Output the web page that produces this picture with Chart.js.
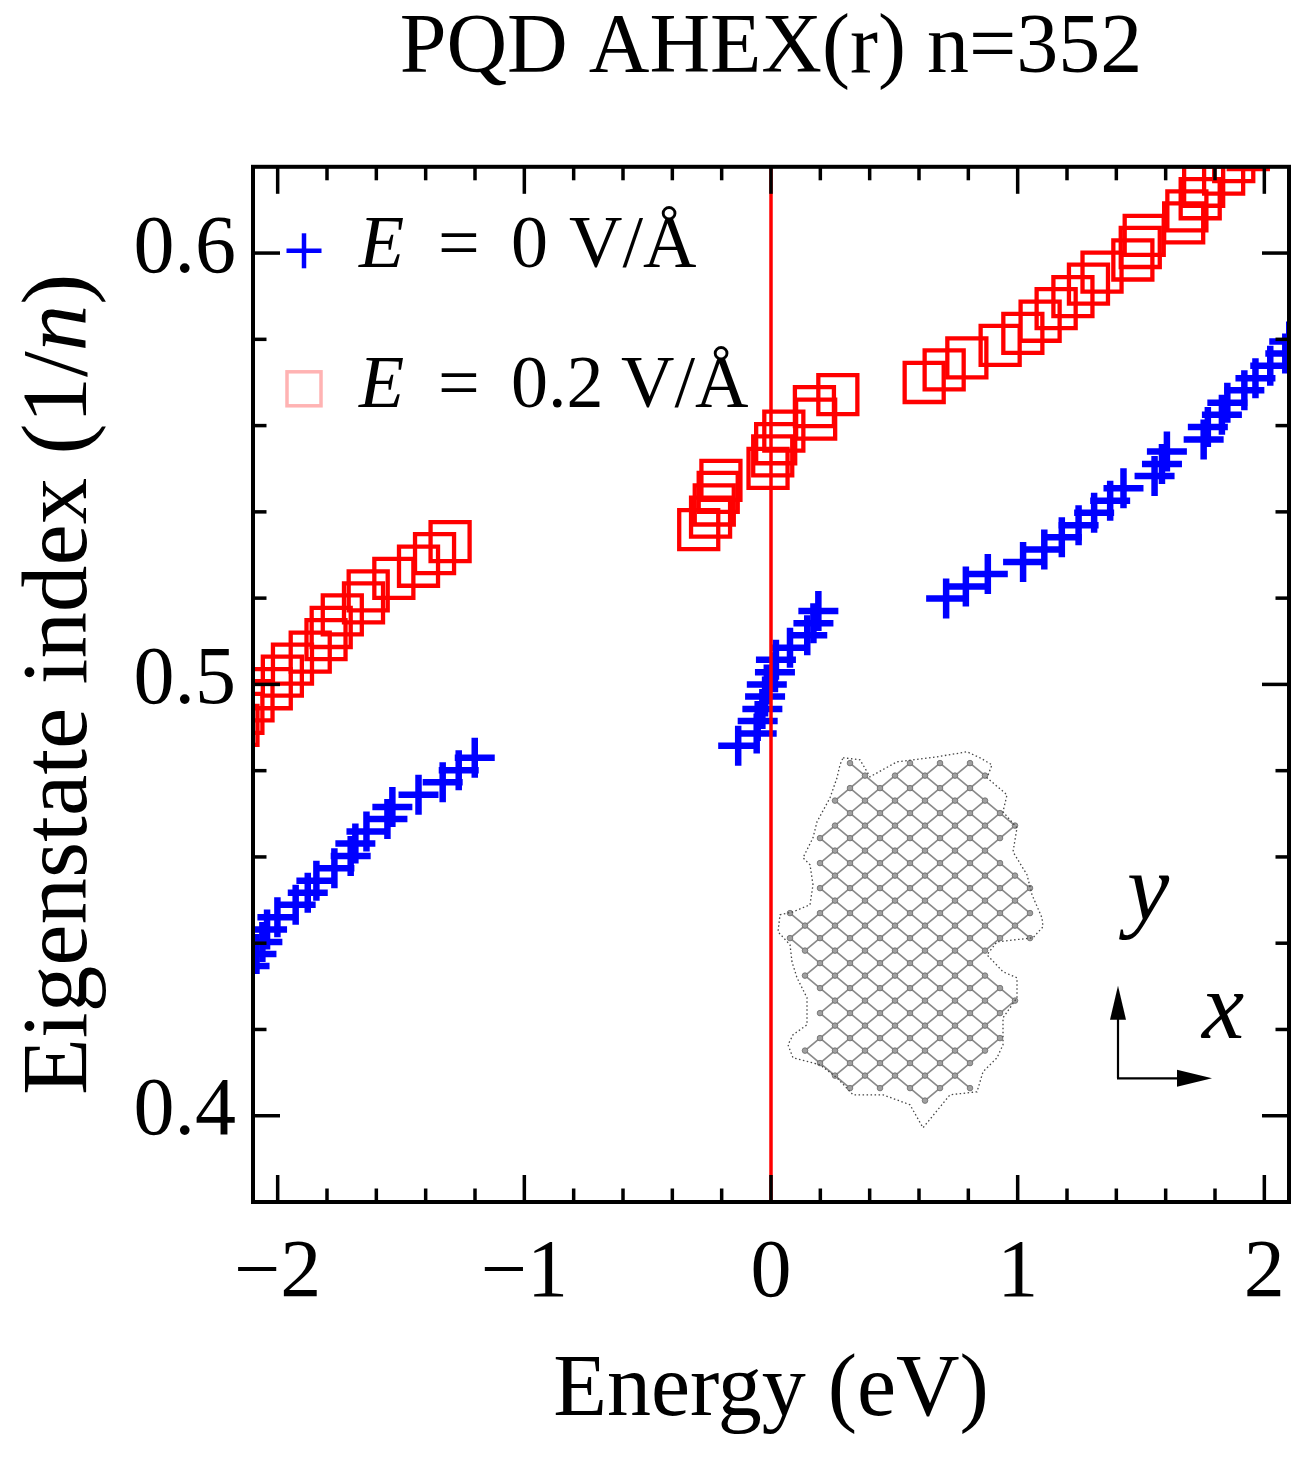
<!DOCTYPE html>
<html>
<head>
<meta charset="utf-8">
<script src="https://cdn.jsdelivr.net/npm/chart.js@4.4.1/dist/chart.umd.min.js"></script>
<style>
  html, body { margin: 0; padding: 0; background: #fff; }
  #wrap { width: 1306px; height: 1458px; }
</style>
</head>
<body>
<div id="wrap"><canvas id="myChart" width="1306" height="1458"></canvas></div>
<script>
// data
// E = 0 V/A  (blue crosses)
var zeroFieldEnergy = [-2.114, -2.086, -2.062, -2.043, -2.001, -1.927, -1.878, -1.843, -1.770, -1.704, -1.685, -1.640, -1.555, -1.535, -1.429, -1.331, -1.266, -1.201,
  -0.133, -0.058, -0.054, -0.035, -0.024, -0.017, 0.016, 0.020, 0.077, 0.147, 0.172, 0.192,
  0.710, 0.790, 0.879, 1.022, 1.108, 1.179, 1.247, 1.310, 1.375, 1.429, 1.555, 1.585, 1.605, 1.754, 1.771, 1.828, 1.850, 1.919, 1.964, 2.024, 2.085, 2.101, 2.166];
var zeroFieldIndex = [0.4347, 0.4375, 0.4403, 0.4432, 0.4460, 0.4489, 0.4517, 0.4545, 0.4574, 0.4602, 0.4631, 0.4659, 0.4688, 0.4716, 0.4744, 0.4773, 0.4801, 0.4830,
  0.4858, 0.4886, 0.4915, 0.4943, 0.4972, 0.5000, 0.5028, 0.5057, 0.5085, 0.5114, 0.5142, 0.5170,
  0.5199, 0.5227, 0.5256, 0.5284, 0.5313, 0.5341, 0.5369, 0.5398, 0.5426, 0.5455, 0.5483, 0.5511, 0.5540, 0.5568, 0.5597, 0.5625, 0.5653, 0.5682, 0.5710, 0.5739, 0.5767, 0.5795, 0.5824];

// E = 0.2 V/A  (red squares)
var fieldEnergy = [-2.161, -2.141, -2.100, -2.026, -1.981, -1.940, -1.868, -1.804, -1.783, -1.738, -1.652, -1.633, -1.529, -1.429, -1.364, -1.301,
  -0.293, -0.245, -0.230, -0.214, -0.203, -0.012, 0.007, 0.019, 0.052, 0.181, 0.176, 0.271,
  0.621, 0.702, 0.794, 0.929, 1.021, 1.091, 1.156, 1.224, 1.287, 1.342, 1.467, 1.497, 1.513, 1.673, 1.686, 1.740, 1.754, 1.835, 1.876, 1.935];
var fieldIndex = [0.4905, 0.4933, 0.4962, 0.4990, 0.5019, 0.5047, 0.5075, 0.5104, 0.5132, 0.5161, 0.5189, 0.5217, 0.5246, 0.5274, 0.5303, 0.5331,
  0.5359, 0.5388, 0.5416, 0.5445, 0.5473, 0.5501, 0.5530, 0.5558, 0.5587, 0.5615, 0.5644, 0.5672,
  0.5700, 0.5729, 0.5757, 0.5786, 0.5814, 0.5842, 0.5871, 0.5899, 0.5928, 0.5956, 0.5984, 0.6013, 0.6041, 0.6070, 0.6098, 0.6126, 0.6155, 0.6183, 0.6212, 0.6240];

// vertical marker at zero energy
var markerEnergy = [0, 0];
var markerIndex = [0.38, 0.62];

// axes
var xRange = [-2.1, 2.1];
var yRange = [0.38, 0.62];
var xTickValues = [-2, -1, 0, 1, 2];
var xTickLabels = ['\u22122', '\u22121', '0', '1', '2'];
var xMinorTicks = [-1.8, -1.6, -1.4, -1.2, -0.8, -0.6, -0.4, -0.2, 0.2, 0.4, 0.6, 0.8, 1.2, 1.4, 1.6, 1.8];
var yTickValues = [0.4, 0.5, 0.6];
var yTickLabels = ['0.4', '0.5', '0.6'];
var yMinorTicks = [0.42, 0.44, 0.46, 0.48, 0.52, 0.54, 0.56, 0.58];

var titleText = 'PQD AHEX(r) n=352';
var seriesLabels = ['0 V/\u00c5', '0.2 V/\u00c5'];

var SERIF = '"Liberation Serif", "DejaVu Serif", serif';

function toPoints(xs, ys) {
  var pts = [];
  for (var i = 0; i < xs.length; i++) {
    pts.push({x: xs[i], y: ys[i]});
  }
  return pts;
}

// outline of the quantum dot drawing in the inset (local px)
var dotOutline = [[73,13],[90,15],[100,32],[127,17],[167,12],[197,7],[210,13],[222,20],[217,33],[237,50],[233,67],[247,83],
  [243,107],[257,130],[262,150],[272,173],[273,182],[263,193],[227,197],[217,210],[233,227],[247,233],[247,253],[233,273],
  [233,300],[227,313],[213,327],[207,347],[180,350],[153,383],[140,360],[113,350],[83,350],[67,333],[50,320],[23,313],
  [18,300],[23,290],[37,280],[37,253],[27,233],[22,217],[20,200],[8,187],[10,170],[23,167],[40,160],[43,140],[40,120],
  [33,113],[43,93],[47,77],[60,53],[67,33],[70,20]];

function insidePoly(px, py, poly) {
  var inside = false;
  for (var i = 0, j = poly.length - 1; i < poly.length; j = i++) {
    var xi = poly[i][0], yi = poly[i][1], xj = poly[j][0], yj = poly[j][1];
    if (((yi > py) != (yj > py)) && (px < (xj - xi) * (py - yi) / (yj - yi) + xi)) inside = !inside;
  }
  return inside;
}

function line(ctx, x1, y1, x2, y2) {
  ctx.beginPath();
  ctx.moveTo(x1, y1);
  ctx.lineTo(x2, y2);
  ctx.stroke();
}

//draw text pieces one after another, returns end x
function drawPieces(ctx, pieces, x, y, size) {
  pieces.forEach(function(p) {
    ctx.font = p[1] + size + 'px ' + SERIF;
    ctx.fillText(p[0], x, y);
    x += ctx.measureText(p[0]).width;
  });
  return x;
}

var frame = {
  id: 'frame',
  afterDatasetsDraw: function(chart) {
    var ctx = chart.ctx, a = chart.chartArea;
    var xs = chart.scales.x, ys = chart.scales.y;
    ctx.save();
    ctx.strokeStyle = '#000';
    ctx.lineCap = 'butt';
    ctx.lineWidth = 3.5;
    // inward ticks on all four sides
    xTickValues.concat(xMinorTicks).forEach(function(v, i) {
      var len = i < xTickValues.length ? 27 : 13.5;
      var px = xs.getPixelForValue(v);
      line(ctx, px, a.bottom, px, a.bottom - len);
      line(ctx, px, a.top, px, a.top + len);
    });
    yTickValues.concat(yMinorTicks).forEach(function(v, i) {
      var len = i < yTickValues.length ? 27 : 13.5;
      var py = ys.getPixelForValue(v);
      line(ctx, a.left, py, a.left + len, py);
      line(ctx, a.right, py, a.right - len, py);
    });
    ctx.lineWidth = 4;
    ctx.strokeRect(a.left, a.top, a.right - a.left, a.bottom - a.top);
    ctx.restore();
  },
  afterDraw: function(chart) {
    var ctx = chart.ctx, a = chart.chartArea;
    ctx.save();
    ctx.fillStyle = '#000';
    ctx.textBaseline = 'alphabetic';
    ctx.textAlign = 'left';

    // y axis title with italic n
    ctx.save();
    ctx.translate(a.left - 167, (a.top + a.bottom) / 2);
    ctx.rotate(-Math.PI / 2);
    var yTitle = [['Eigenstate index (1/', ''], ['n', 'italic '], [')', '']];
    var w = 0;
    yTitle.forEach(function(p) {
      ctx.font = p[1] + '93px ' + SERIF;
      w += ctx.measureText(p[0]).width;
    });
    drawPieces(ctx, yTitle, -w / 2, 0, 93);
    ctx.restore();

    // legend
    var lx = a.left + 51;
    ctx.strokeStyle = '#0000ff';
    ctx.lineWidth = 4.5;
    line(ctx, lx - 17.5, a.top + 84, lx + 17.5, a.top + 84);
    line(ctx, lx, a.top + 66.5, lx, a.top + 101.5);
    ctx.strokeStyle = '#ffb3b3';
    ctx.lineWidth = 3.5;
    ctx.strokeRect(lx - 17, a.top + 222 - 17, 34, 34);
    var rows = [a.top + 100, a.top + 240];
    rows.forEach(function(by, i) {
      ctx.font = 'italic 74px ' + SERIF;
      ctx.fillText('E', a.left + 106, by);
      ctx.font = '74px ' + SERIF;
      ctx.fillText('=', a.left + 185, by);
      var parts = seriesLabels[i].split(' ');
      ctx.fillText(parts[0], a.left + 258, by);
      ctx.fillText(parts[1], a.left + (i === 0 ? 316 : 368), by);
    });

    // inset: quantum dot lattice and axes arrows
    var ox = a.left + 517, oy = a.top + 578;
    ctx.save();
    ctx.translate(ox, oy);
    var nodes = [];
    for (var i = -4; i < 30; i++) {
      for (var j = -6; j < 14; j++) {
        if ((i + j) % 2 !== 0) continue;
        var nx = 80 + 15 * j, ny = 43.3 + 12.5 * i;
        if (insidePoly(nx, ny, dotOutline)) nodes.push([i, j, nx, ny]);
      }
    }
    var has = {};
    nodes.forEach(function(n) { has[n[0] + ',' + n[1]] = n; });
    ctx.strokeStyle = '#8a8a8a';
    ctx.lineWidth = 1.7;
    nodes.forEach(function(n) {
      [-1, 1].forEach(function(d) {
        var m = has[(n[0] + 1) + ',' + (n[1] + d)];
        if (m) line(ctx, n[2], n[3], m[2], m[3]);
      });
    });
    ctx.fillStyle = '#a0a0a0';
    ctx.strokeStyle = '#6a6a6a';
    ctx.lineWidth = 0.8;
    nodes.forEach(function(n) {
      ctx.beginPath();
      ctx.arc(n[2], n[3], 2.8, 0, Math.PI * 2);
      ctx.fill();
      ctx.stroke();
    });
    ctx.strokeStyle = '#444';
    ctx.lineWidth = 1.3;
    ctx.setLineDash([1.5, 2.5]);
    ctx.beginPath();
    dotOutline.forEach(function(p, k) {
      if (k === 0) ctx.moveTo(p[0], p[1]); else ctx.lineTo(p[0], p[1]);
    });
    ctx.closePath();
    ctx.stroke();
    ctx.setLineDash([]);

    // axes arrows
    ctx.strokeStyle = '#000';
    ctx.fillStyle = '#000';
    ctx.lineWidth = 2.2;
    line(ctx, 348, 333.5, 348, 270);
    line(ctx, 347, 333.5, 410, 333.5);
    ctx.beginPath();
    ctx.moveTo(340, 275); ctx.lineTo(356, 275); ctx.lineTo(348, 241); ctx.closePath(); ctx.fill();
    ctx.beginPath();
    ctx.moveTo(407, 325); ctx.lineTo(407, 342); ctx.lineTo(442, 333.5); ctx.closePath(); ctx.fill();
    ctx.font = 'italic 95px ' + SERIF;
    ctx.textAlign = 'center';
    ctx.fillText('y', 378, 175);
    ctx.fillText('x', 453, 293);
    ctx.restore();

    ctx.restore();
  }
};

var ctx = document.getElementById('myChart');

var myChart = new Chart(ctx, {
  type: 'scatter',
  data: {
    datasets: [
      {
        label: 'E = 0 marker',
        data: toPoints(markerEnergy, markerIndex),
        showLine: true,
        borderColor: '#ff0000',
        borderWidth: 3.5,
        pointRadius: 0,
        clip: 0
      },
      {
        label: 'E = ' + seriesLabels[0],
        data: toPoints(zeroFieldEnergy, zeroFieldIndex),
        pointStyle: 'cross',
        pointRadius: 20,
        borderWidth: 6.5,
        borderColor: '#0000ff',
        backgroundColor: '#0000ff',
        clip: 0
      },
      {
        label: 'E = ' + seriesLabels[1],
        data: toPoints(fieldEnergy, fieldIndex),
        pointStyle: 'rect',
        pointRadius: 27.6,
        borderWidth: 4.3,
        borderColor: '#ff0000',
        backgroundColor: 'rgba(0,0,0,0)',
        clip: 0
      }
    ]
  },
  options: {
    responsive: false,
    animation: false,
    events: [],
    layout: { autoPadding: false, padding: { left: 0, right: 17, top: 0, bottom: 0 } },
    plugins: {
      legend: { display: false },
      tooltip: { enabled: false },
      title: {
        display: true,
        text: titleText,
        fullSize: false,
        color: '#000',
        font: { family: SERIF, size: 84, weight: 'normal', lineHeight: 1.2 },
        padding: { top: 0, bottom: 66 }
      }
    },
    scales: {
      x: {
        type: 'linear',
        position: 'bottom',
        min: xRange[0],
        max: xRange[1],
        grid: { display: false },
        border: { display: false },
        afterBuildTicks: function(scale) {
          scale.ticks = xTickValues.map(function(v) { return {value: v}; });
        },
        afterFit: function(scale) {
          scale.height = 256;
          scale.paddingLeft = 0;
          scale.paddingRight = 0;
        },
        ticks: {
          color: '#000',
          font: { family: SERIF, size: 82 },
          padding: 15,
          maxRotation: 0,
          autoSkip: false,
          callback: function(v, i) { return xTickLabels[i]; }
        },
        title: {
          display: true,
          text: 'Energy (eV)',
          color: '#000',
          font: { family: SERIF, size: 88, lineHeight: 1.2 },
          padding: { top: 0, bottom: 13 }
        }
      },
      y: {
        type: 'linear',
        position: 'left',
        min: yRange[0],
        max: yRange[1],
        grid: { display: false },
        border: { display: false },
        afterBuildTicks: function(scale) {
          scale.ticks = yTickValues.map(function(v) { return {value: v}; });
        },
        afterFit: function(scale) {
          scale.width = 253;
          scale.paddingTop = 0;
          scale.paddingBottom = 0;
        },
        ticks: {
          color: '#000',
          font: { family: SERIF, size: 82 },
          padding: 9,
          labelOffset: -3,
          autoSkip: false,
          callback: function(v, i) { return yTickLabels[i]; }
        }
      }
    }
  },
  plugins: [frame]
});
</script>
</body>
</html>
